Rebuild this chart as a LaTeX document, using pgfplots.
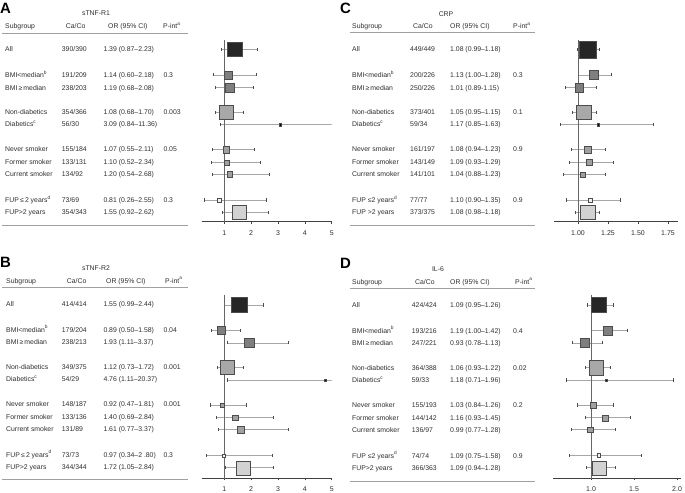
\documentclass[border=0pt]{standalone}
\usepackage{pgfplots}
\pgfplotsset{compat=1.18}
\usepackage{fontspec}
\setmainfont{Liberation Sans}
\definecolor{txt}{HTML}{2E2E2E}
\definecolor{cAll}{HTML}{262626}
\definecolor{cBMI}{HTML}{7F7F7F}
\definecolor{cND}{HTML}{A8A8A8}
\definecolor{cSm}{HTML}{A0A0A0}
\definecolor{cFa}{HTML}{F2F2F2}
\definecolor{cFb}{HTML}{D2D2D2}
\definecolor{whisk}{HTML}{A6A6A6}
\definecolor{rule}{HTML}{A0A0A0}

% forest point: y, OR, lo, hi, half side, fill
\newcommand{\fp}[6]{%
 \addplot[draw=none, mark=square*, mark size=#5pt,
   mark options={fill=#6, draw=black!70, line width=0.35pt},
   error bars/.cd, x dir=both, x explicit,
   error bar style={whisk, line width=0.6pt},
   error mark=|, error mark options={black!70, mark size=1.6pt, line width=0.5pt}]
 table[row sep=\\, x=x, y=y, x error plus expr=\thisrow{h}-\thisrow{x},
       x error minus expr=\thisrow{x}-\thisrow{l}] {x y l h\\ #2 -#1 #3 #4\\};}

\pgfplotsset{forest/.style={scale only axis, height=181.7bp,
  ymin=-221.7, ymax=-40, axis x line*=bottom, axis y line=none,
  x axis line style={black!75, line width=0.6pt},
  tick style={black!75, line width=0.5pt}, major tick length=2bp,
  tick align=outside,
  tick label style={font=\fontsize{7}{8}\selectfont, text=txt},
  xticklabel style={yshift=-3bp},
  /pgf/number format/assume math mode=true},
  forestlow/.style={forest, height=182.6bp, ymin=-222.6, xticklabel style={yshift=-0.5bp}}}

\tikzset{tx/.style={anchor=base west, inner sep=0pt, text=txt, font=\fontsize{6.9}{8}\selectfont},
         tt/.style={anchor=base, inner sep=0pt, text=txt, font=\fontsize{6.9}{8}\selectfont},
         lt/.style={anchor=base west, inner sep=0pt, text=black, font=\fontsize{15}{16}\bfseries\selectfont}}

% table row: y, name, caco, or, pint  (x columns in \xa \xb \xc \xd)
\newcommand{\trow}[5]{%
 \node[tx] at (\xa,#1+2.5) {#2};
 \node[tx] at (\xb,#1+2.5) {#3};
 \node[tx] at (\xc,#1+2.5) {#4};
 \node[tx] at (\xd,#1+2.5) {#5};}

\newcommand{\refline}{\draw[black!60, line width=0.6pt] (axis cs:1,-40) -- (axis cs:1,-230);}

\begin{document}
\begin{tikzpicture}[x=1bp,y=-1bp]
\useasboundingbox (0,0) rectangle (685,493);

%================ PANEL A =================
\begin{scope}
\node[lt] at (0,13.5) {A};
\node[tt] at (96,16) {sTNF-R1};
\node[tx] at (5,28.5) {Subgroup};
\node[tx] at (65.7,28.5) {Ca/Co};
\node[tx] at (108,28.5) {OR (95\% CI)};
\node[tx] at (163,28.5) {P-int\textsuperscript{a}};
\draw[rule, line width=0.8pt] (2,33) -- (188,33);
\draw[rule, line width=0.8pt] (2,225) -- (188,225);
\def\xa{5}\def\xb{61.7}\def\xc{103.3}\def\xd{163.3}
\trow{49.3}{All}{390/390}{1.39 (0.87–2.23)}{}
\trow{75}{BMI<median\textsuperscript{b}}{191/209}{1.14 (0.60–2.18)}{0.3}
\trow{87.7}{BMI\,≥\,median}{238/203}{1.19 (0.68–2.08)}{}
\trow{112.3}{Non-diabetics}{354/366}{1.08 (0.68–1.70)}{0.003}
\trow{124.3}{Diabetics\textsuperscript{c}}{56/30}{3.09 (0.84–11.36)}{}
\trow{149.3}{Never smoker}{155/184}{1.07 (0.55–2.11)}{0.05}
\trow{162.3}{Former smoker}{133/131}{1.10 (0.52–2.34)}{}
\trow{174.3}{Current smoker}{134/92}{1.20 (0.54–2.68)}{}
\trow{200}{FUP\,≤\,2 years\textsuperscript{d}}{73/69}{0.81 (0.26–2.55)}{0.3}
\trow{212.3}{FUP>2 years}{354/343}{1.55 (0.92–2.62)}{}
\end{scope}

%================ PANEL B =================
\begin{scope}[shift={(0,254.5)}]
\node[lt] at (0,13.5) {B};
\node[tt] at (96,16.5) {sTNF-R2};
\node[tx] at (6,28.5) {Subgroup};
\node[tx] at (66.7,28.5) {Ca/Co};
\node[tx] at (106,28.5) {OR (95\% CI)};
\node[tx] at (165,28.5) {P-int\textsuperscript{a}};
\draw[rule, line width=0.8pt] (2,33) -- (188,33);
\draw[rule, line width=0.8pt] (2,225) -- (188,225);
\def\xa{6}\def\xb{61.7}\def\xc{103.3}\def\xd{163.3}
\trow{49.3}{All}{414/414}{1.55 (0.99–2.44)}{}
\trow{75}{BMI<median\textsuperscript{b}}{179/204}{0.89 (0.50–1.58)}{0.04}
\trow{87.7}{BMI\,≥\,median}{238/213}{1.93 (1.11–3.37)}{}
\trow{112.3}{Non-diabetics}{349/375}{1.12 (0.73–1.72)}{0.001}
\trow{124.3}{Diabetics\textsuperscript{c}}{54/29}{4.76 (1.11–20.37)}{}
\trow{149.3}{Never smoker}{148/187}{0.92 (0.47–1.81)}{0.001}
\trow{162.3}{Former smoker}{133/136}{1.40 (0.69–2.84)}{}
\trow{174.3}{Current smoker}{131/89}{1.61 (0.77–3.37)}{}
\trow{200}{FUP\,≤\,2 years\textsuperscript{d}}{73/73}{0.97 (0.34–2 .80)}{0.3}
\trow{212.3}{FUP>2 years}{344/344}{1.72 (1.05–2.84)}{}
\end{scope}

%================ PANEL C =================
\begin{scope}
\node[lt] at (340,13.5) {C};
\node[tt] at (446,17) {CRP};
\node[tx] at (352,28.5) {Subgroup};
\node[tx] at (413,28.5) {Ca/Co};
\node[tx] at (450,28.5) {OR (95\% CI)};
\node[tx] at (513,28.5) {P-int\textsuperscript{a}};
\draw[rule, line width=0.8pt] (350,32.5) -- (535,32.5);
\draw[rule, line width=0.8pt] (350,225) -- (535,225);
\def\xa{352}\def\xb{410}\def\xc{450}\def\xd{513}
\trow{49.3}{All}{449/449}{1.08 (0.99–1.18)}{}
\trow{75}{BMI<median\textsuperscript{b}}{200/226}{1.13 (1.00–1.28)}{0.3}
\trow{87.7}{BMI\,≥\,median}{250/226}{1.01 (0.89-1.15)}{}
\trow{112.3}{Non-diabetics}{373/401}{1.05 (0.95–1.15)}{0.1}
\trow{124.3}{Diabetics\textsuperscript{c}}{59/34}{1.17 (0.85–1.63)}{}
\trow{149.3}{Never smoker}{161/197}{1.08 (0.94–1.23)}{0.9}
\trow{162.3}{Former smoker}{143/149}{1.09 (0.93–1.29)}{}
\trow{174.3}{Current smoker}{141/101}{1.04 (0.88–1.23)}{}
\trow{200}{FUP ≤2 years\textsuperscript{d}}{77/77}{1.10 (0.90–1.35)}{0.9}
\trow{212.3}{FUP >2 years}{373/375}{1.08 (0.98–1.18)}{}
\end{scope}

%================ PANEL D =================
\begin{scope}[shift={(0,255.5)}]
\node[lt] at (340,13.5) {D};
\node[tt] at (438,16) {IL-6};
\node[tx] at (352,28.5) {Subgroup};
\node[tx] at (415,28.5) {Ca/Co};
\node[tx] at (450,28.5) {OR (95\% CI)};
\node[tx] at (515,28.5) {P-int\textsuperscript{a}};
\draw[rule, line width=0.8pt] (350,33) -- (535,33);
\draw[rule, line width=0.8pt] (350,225.5) -- (535,225.5);
\def\xa{352}\def\xb{411.7}\def\xc{450}\def\xd{513}
\trow{49.3}{All}{424/424}{1.09 (0.95–1.26)}{}
\trow{75}{BMI<median\textsuperscript{b}}{193/216}{1.19 (1.00–1.42)}{0.4}
\trow{87.7}{BMI\,≥\,median}{247/221}{0.93 (0.78–1.13)}{}
\trow{112.3}{Non-diabetics}{364/388}{1.06 (0.93–1.22)}{0.02}
\trow{124.3}{Diabetics\textsuperscript{c}}{59/33}{1.18 (0.71–1.96)}{}
\trow{149.3}{Never smoker}{155/193}{1.03 (0.84–1.26)}{0.2}
\trow{162.3}{Former smoker}{144/142}{1.16 (0.93–1.45)}{}
\trow{174.3}{Current smoker}{136/97}{0.99 (0.77–1.28)}{}
\trow{200}{FUP ≤2 years\textsuperscript{d}}{74/74}{1.09 (0.75–1.58)}{0.9}
\trow{212.3}{FUP>2 years}{366/363}{1.09 (0.94–1.28)}{}
\end{scope}

%================ FOREST A =================
\begin{axis}[forest, at={(201.7bp,-221.7bp)}, anchor=south west, width=130bp,
  xmin=0.16, xmax=5, xtick={1,2,3,4,5}, xticklabels={1,2,3,4,5}]
\fp{49.5}{1.39}{0.87}{2.23}{7.1}{cAll}
\fp{74.8}{1.14}{0.60}{2.18}{3.9}{cBMI}
\fp{87.4}{1.19}{0.68}{2.08}{4.5}{cBMI}
\fp{112.2}{1.08}{0.68}{1.70}{7.1}{cND}
\fp{124.6}{3.09}{0.84}{11.36}{1.1}{black}
\fp{149.6}{1.07}{0.55}{2.11}{3.3}{cSm}
\fp{162.3}{1.10}{0.52}{2.34}{2.4}{cSm}
\fp{174.3}{1.20}{0.54}{2.68}{2.9}{cSm}
\fp{200}{0.81}{0.26}{2.55}{1.7}{cFa}
\fp{212.3}{1.55}{0.92}{2.62}{6.7}{cFb}
\refline
\end{axis}

%================ FOREST B =================
\begin{axis}[forestlow, at={(201.7bp,-478bp)}, anchor=south west, width=130bp,
  xmin=0.16, xmax=5, xtick={1,2,3,4,5}, xticklabels={1,2,3,4,5}]
\fp{49.5}{1.55}{0.99}{2.44}{7.7}{cAll}
\fp{74.8}{0.89}{0.50}{1.58}{4.2}{cBMI}
\fp{87.4}{1.93}{1.11}{3.37}{4.8}{cBMI}
\fp{112.2}{1.12}{0.73}{1.72}{7}{cND}
\fp{124.6}{4.76}{1.11}{20.37}{1.1}{black}
\fp{149.6}{0.92}{0.47}{1.81}{2.3}{cSm}
\fp{162.3}{1.40}{0.69}{2.84}{2.8}{cSm}
\fp{174.3}{1.61}{0.77}{3.37}{3.3}{cSm}
\fp{200}{0.97}{0.34}{2.80}{1.6}{cFa}
\fp{212.3}{1.72}{1.05}{2.84}{7}{cFb}
\refline
\end{axis}

%================ FOREST C =================
\begin{axis}[forest, at={(554bp,-221.7bp)}, anchor=south west, width=123.6bp,
  xmin=0.8, xmax=1.83, xtick={1,1.25,1.5,1.75}, xticklabels={1.00,1.25,1.50,1.75}]
\fp{49.5}{1.08}{0.99}{1.18}{8.3}{cAll}
\fp{74.8}{1.13}{1.00}{1.28}{4.3}{cBMI}
\fp{87.4}{1.01}{0.89}{1.15}{4.3}{cBMI}
\fp{112.2}{1.05}{0.95}{1.15}{7.5}{cND}
\fp{124.6}{1.17}{0.85}{1.63}{1.2}{black}
\fp{149.6}{1.08}{0.94}{1.23}{3.3}{cSm}
\fp{162.3}{1.09}{0.93}{1.29}{2.9}{cSm}
\fp{174.3}{1.04}{0.88}{1.23}{2.5}{cSm}
\fp{200}{1.10}{0.90}{1.35}{1.7}{cFa}
\fp{212.3}{1.08}{0.98}{1.18}{7.3}{cFb}
\refline
\end{axis}

%================ FOREST D =================
\begin{axis}[forestlow, at={(553.2bp,-478bp)}, anchor=south west, width=127.3bp,
  xmin=0.56, xmax=2.04, xtick={1,1.5,2}, xticklabels={1.0,1.5,2.0}]
\fp{49.5}{1.09}{0.95}{1.26}{7.5}{cAll}
\fp{74.8}{1.19}{1.00}{1.42}{4.5}{cBMI}
\fp{87.4}{0.93}{0.78}{1.13}{4.5}{cBMI}
\fp{112.2}{1.06}{0.93}{1.22}{7.3}{cND}
\fp{124.6}{1.18}{0.71}{1.96}{1.1}{black}
\fp{149.6}{1.03}{0.84}{1.26}{3}{cSm}
\fp{162.3}{1.16}{0.93}{1.45}{3}{cSm}
\fp{174.3}{0.99}{0.77}{1.28}{2.6}{cSm}
\fp{200}{1.09}{0.75}{1.58}{1.8}{cFa}
\fp{212.3}{1.09}{0.94}{1.28}{7}{cFb}
\refline
\end{axis}

\end{tikzpicture}
\end{document}
